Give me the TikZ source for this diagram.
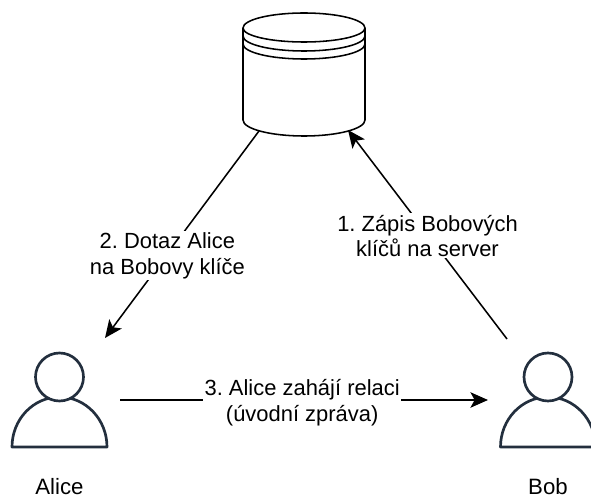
\documentclass[tikz,border=0pt]{standalone}
\usepackage{fontspec}
\setmainfont{Liberation Sans}
\usetikzlibrary{arrows.meta}
\definecolor{persona}{RGB}{35,47,62}
\frenchspacing
\tikzset{
	flow/.style={line width=1.1pt, -{Stealth[length=12.5pt,width=11pt,inset=3pt]}},
	caption/.style={font=\fontsize{15.8}{19}\selectfont, align=center, inner sep=0pt},
	flowtext/.style={font=\fontsize{15.6}{18.3}\selectfont, align=center, inner sep=1pt, fill=white},
	person/.pic={
		\draw[persona, line width=1.9pt, line join=round, fill=white] (-47.5,24) arc[start angle=180, end angle=360, x radius=47.5, y radius=50] -- cycle;
		\draw[persona, line width=1.9pt, fill=white] (0,-46) circle (24);
	}
}
\begin{document}
\begin{tikzpicture}[x=0.025cm, y=-0.025cm]
\useasboundingbox (0,0) rectangle (591,497);
% database
\draw[line width=1.1pt] (243,28) arc[start angle=180, end angle=360, x radius=61, y radius=15] -- (365,120)
	arc[start angle=0, end angle=180, x radius=61, y radius=16] -- cycle;
\draw[line width=1.1pt] (243,28) arc[start angle=180, end angle=0, x radius=61, y radius=14];
\draw[line width=1.1pt] (243,36) arc[start angle=180, end angle=0, x radius=61, y radius=15];
\draw[line width=1.1pt] (243,44) arc[start angle=180, end angle=0, x radius=61, y radius=15];
\node (db) at (304,75) {};
% persons
\pic (picalice) at (59.5,423) {person};
\pic (picbob) at (548,423) {person};
\node[caption, anchor=base] (alice) at (59.5,494) {Alice};
\node[caption, anchor=base] (bob) at (548,494) {Bob};
\coordinate (dbleft) at (259,131);
\coordinate (dbright) at (348,130);
\coordinate (aliceup) at (105,338);
\coordinate (bobup) at (507,339);
\coordinate (aliceright) at (120,400);
\coordinate (bobleft) at (488,400);
% connectors
\draw[flow] (bobup) -- (dbright) node[flowtext, pos=0.5, yshift=-1pt] (write) {1. Zápis Bobových\\klíčů na server};
\draw[flow] (dbleft) -- (aliceup) node[flowtext, pos=0.595, yshift=-1pt] (query) {2. Dotaz Alice\\na Bobovy klíče};
\draw[flow] (aliceright) -- (bobleft) node[flowtext, pos=0.495, yshift=-2pt] (session) {3. Alice zahájí relaci\\(úvodní zpráva)};
\end{tikzpicture}
\end{document}
